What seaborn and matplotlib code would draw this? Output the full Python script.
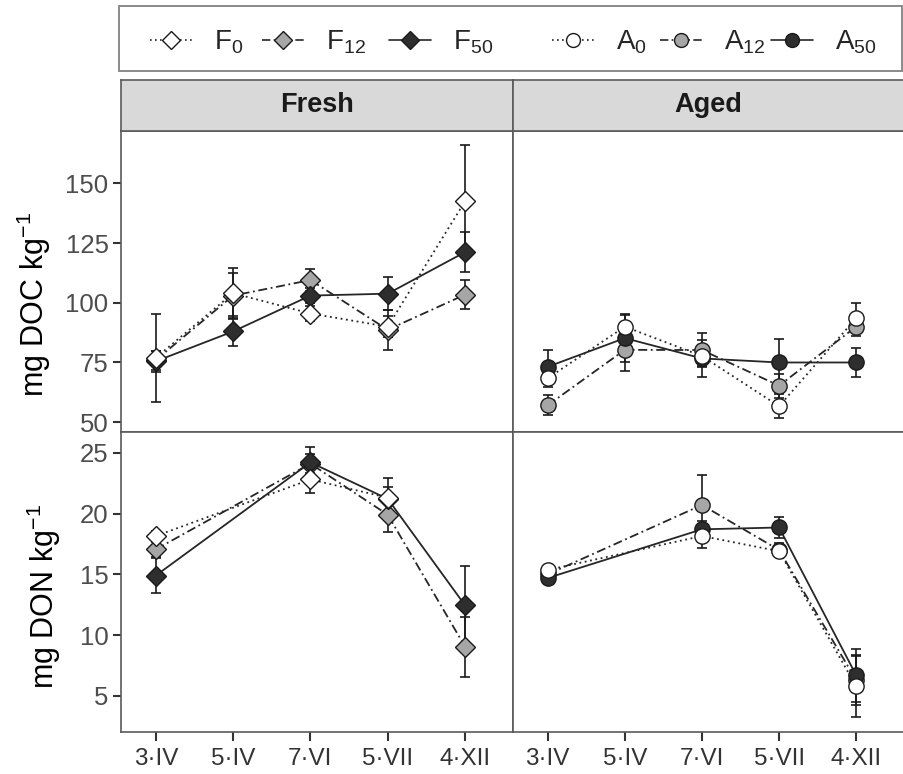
import numpy as np
import pandas as pd
import matplotlib
matplotlib.use("Agg")
import matplotlib.pyplot as plt
import seaborn as sns
from matplotlib.lines import Line2D
from matplotlib.patches import Rectangle

# ---------------- data ----------------
dates = ["3·IV", "5·IV", "7·VI", "5·VII", "4·XII"]
nan = np.nan

doc_F0 = [77.0, 104.0, 95.5, 90.0, 142.5]
doc_F0_se = [18.5, 10.7, 3.0, 4.5, 23.5]
doc_F12 = [76.0, 103.0, 109.5, 88.7, 103.4]
doc_F12_se = [4.0, 9.4, 4.6, 8.4, 6.2]
doc_F50 = [75.5, 88.0, 103.0, 103.8, 121.2]
doc_F50_se = [4.5, 6.3, 3.0, 6.8, 8.4]

doc_A0 = [68.4, 90.0, 77.7, 56.7, 93.6]
doc_A0_se = [3.5, 5.0, 4.0, 5.0, 6.4]
doc_A12 = [57.1, 80.3, 80.2, 65.3, 90.0]
doc_A12_se = [4.1, 9.0, 7.0, 5.0, 4.0]
doc_A50 = [73.2, 85.2, 76.7, 75.0, 75.0]
doc_A50_se = [7.1, 10.0, 7.7, 10.0, 6.0]

don_F0 = [18.15, nan, 22.8, 21.3, nan]
don_F0_se = [0.4, nan, 1.1, 1.65, nan]
don_F12 = [17.05, nan, 24.1, 19.9, 9.05]
don_F12_se = [0.6, nan, 0.8, 1.4, 2.45]
don_F50 = [14.9, nan, 24.2, 21.2, 12.45]
don_F50_se = [1.45, nan, 1.3, 1.0, 3.2]

don_A0 = [15.36, nan, 18.15, 16.9, 5.8]
don_A0_se = [0.4, nan, 0.95, 0.5, 2.55]
don_A12 = [15.0, nan, 20.7, 17.0, 6.3]
don_A12_se = [0.4, nan, 2.5, 0.6, 2.0]
don_A50 = [14.7, nan, 18.7, 18.85, 6.7]
don_A50_se = [0.3, nan, 0.7, 0.9, 2.2]

series = {
    ("DOC", "Fresh", "0"): (doc_F0, doc_F0_se),
    ("DOC", "Fresh", "12"): (doc_F12, doc_F12_se),
    ("DOC", "Fresh", "50"): (doc_F50, doc_F50_se),
    ("DOC", "Aged", "0"): (doc_A0, doc_A0_se),
    ("DOC", "Aged", "12"): (doc_A12, doc_A12_se),
    ("DOC", "Aged", "50"): (doc_A50, doc_A50_se),
    ("DON", "Fresh", "0"): (don_F0, don_F0_se),
    ("DON", "Fresh", "12"): (don_F12, don_F12_se),
    ("DON", "Fresh", "50"): (don_F50, don_F50_se),
    ("DON", "Aged", "0"): (don_A0, don_A0_se),
    ("DON", "Aged", "12"): (don_A12, don_A12_se),
    ("DON", "Aged", "50"): (don_A50, don_A50_se),
}

rows = []
for (var, soil, rate), (vals, ses) in series.items():
    for i, d in enumerate(dates):
        rows.append(dict(var=var, soil=soil, rate=rate, date=d, pos=i,
                         value=vals[i], se=ses[i]))
df = pd.DataFrame(rows).dropna(subset=["value"])

# ---------------- style ----------------
sns.set_theme(style="white")
plt.rcParams["font.family"] = ["Liberation Sans", "DejaVu Sans"]
plt.rcParams["mathtext.fontset"] = "custom"
plt.rcParams["mathtext.rm"] = "Liberation Sans"
plt.rcParams["mathtext.it"] = "Liberation Sans:italic"
plt.rcParams["mathtext.bf"] = "Liberation Sans:bold"
plt.rcParams["mathtext.default"] = "regular"

W, H = 904, 774
fig = plt.figure(figsize=(W / 100, H / 100), dpi=100)
fig.patch.set_facecolor("white")

line_col = "#262626"
edge_col = "#1a1a1a"
spine_col = "#5a5a5a"
fills = {"0": "#FFFFFF", "12": "#A6A6A6", "50": "#2E2E2E"}
lstyles = {"0": (0, (1, 2)), "12": (0, (5, 2, 1, 2)), "50": "-"}
markers = {"Fresh": "D", "Aged": "o"}
msizes = {"Fresh": 10.5, "Aged": 11}
draw_order = ["12", "50", "0"]

def fx(px):
    return px / W

def fy(py):
    return 1 - py / H

x_l, x_m, x_r = 121, 513, 904
y_strip_top, y_top, y_mid, y_bot = 80, 131, 432, 732

axes = {}
for var, (yt, yb) in {"DOC": (y_top, y_mid), "DON": (y_mid, y_bot)}.items():
    for soil, (xa, xb) in {"Fresh": (x_l, x_m), "Aged": (x_m, x_r)}.items():
        ax = fig.add_axes([fx(xa), fy(yb), fx(xb - xa), (yb - yt) / H])
        axes[(var, soil)] = ax

ylims = {"DOC": (45.9, 171.9), "DON": (2.04, 26.7)}
yticks = {"DOC": [50, 75, 100, 125, 150], "DON": [5, 10, 15, 20, 25]}
ylabels = {"DOC": "mg DOC kg$^{-1}$", "DON": "mg DON kg$^{-1}$"}
# label anchor (right edge x in px, centre y in px)
ylab_pos = {"DOC": (53, 305), "DON": (63, 597)}

for (var, soil), ax in axes.items():
    sub = df[(df["var"] == var) & (df["soil"] == soil)]
    for k, rate in enumerate(draw_order):
        s = sub[sub["rate"] == rate]
        ax.errorbar(s["pos"], s["value"], yerr=s["se"], fmt="none",
                    ecolor=edge_col, elinewidth=1.2, capsize=3.5,
                    capthick=1.2, zorder=1.5)
    for k, rate in enumerate(draw_order):
        s = sub[sub["rate"] == rate]
        sns.lineplot(data=s, x="pos", y="value", ax=ax, errorbar=None,
                     color=line_col, linestyle=lstyles[rate], lw=1.3,
                     marker=markers[soil], markersize=msizes[soil],
                     markerfacecolor=fills[rate], markeredgecolor=edge_col,
                     markeredgewidth=1.0, legend=False, zorder=3 + k)
    ax.set_xlim(-0.45, 4.62)
    ax.set_ylim(*ylims[var])
    ax.set_yticks(yticks[var])
    ax.set_xticks(range(len(dates)))
    ax.set_xticklabels(dates)
    ax.set_xlabel("")
    ax.set_ylabel("")
    ax.set_facecolor("white")
    for sp in ax.spines.values():
        sp.set_color(spine_col)
        sp.set_linewidth(1.2)
        sp.set_visible(True)
    ax.tick_params(axis="y", which="both", length=6, width=1.5,
                   color="#333333", labelcolor="#4D4D4D", labelsize=18.5,
                   direction="out", pad=3)
    ax.tick_params(axis="x", which="both", length=6.5, width=1.5,
                   color="#333333", labelcolor="#333333", labelsize=17.5,
                   direction="out", pad=5)
    ax.grid(False)
    if soil == "Aged":
        ax.tick_params(axis="y", left=False, labelleft=False)
    else:
        ax.tick_params(axis="y", left=True, labelleft=True)
        ax.set_ylabel(ylabels[var], fontsize=22, color="black")
        xr, yc = ylab_pos[var]
        yt, yb = (y_top, y_mid) if var == "DOC" else (y_mid, y_bot)
        ax.yaxis.set_label_coords((xr - x_l) / (x_m - x_l),
                                  (yb - yc) / (yb - yt))
    if var == "DOC":
        ax.tick_params(axis="x", bottom=False, labelbottom=False)
    else:
        ax.tick_params(axis="x", bottom=True, labelbottom=True)

# strips
for soil, (xa, xb) in {"Fresh": (x_l, x_m), "Aged": (x_m, x_r)}.items():
    sax = fig.add_axes([fx(xa), fy(y_top), fx(xb - xa),
                        (y_top - y_strip_top) / H])
    sax.set_facecolor("#D9D9D9")
    sax.set_xticks([])
    sax.set_yticks([])
    for sp in sax.spines.values():
        sp.set_color(spine_col)
        sp.set_linewidth(1.2)
    sax.text(0.5, 0.5, soil, transform=sax.transAxes, ha="center",
             va="center", fontsize=19.5, fontweight="bold", color="#1a1a1a")

# legend box
fig.patches.append(Rectangle((fx(119), fy(71)), fx(902 - 119), 65 / H,
                             transform=fig.transFigure, facecolor="white",
                             edgecolor="#8a8a8a", linewidth=1.4, zorder=0))

leg_y = fy(42)
entries = [("F$_{0}$", "0", "Fresh", 150), ("F$_{12}$", "12", "Fresh", 262),
           ("F$_{50}$", "50", "Fresh", 389), ("A$_{0}$", "0", "Aged", 552),
           ("A$_{12}$", "12", "Aged", 660), ("A$_{50}$", "50", "Aged", 771)]
for lab, rate, soil, xpx in entries:
    h = Line2D([], [], color=line_col, linestyle=lstyles[rate], lw=1.2,
               marker=markers[soil], markersize=9 if soil == "Fresh" else 10,
               markerfacecolor=fills[rate], markeredgecolor=edge_col,
               markeredgewidth=1.0)
    fig.legend(handles=[h], labels=[lab], loc="center left",
               bbox_to_anchor=(fx(xpx), leg_y), frameon=False, borderpad=0,
               borderaxespad=0, handlelength=1.5, handletextpad=0.8,
               fontsize=20)

fig.savefig("out.png", dpi=100, facecolor="white")
